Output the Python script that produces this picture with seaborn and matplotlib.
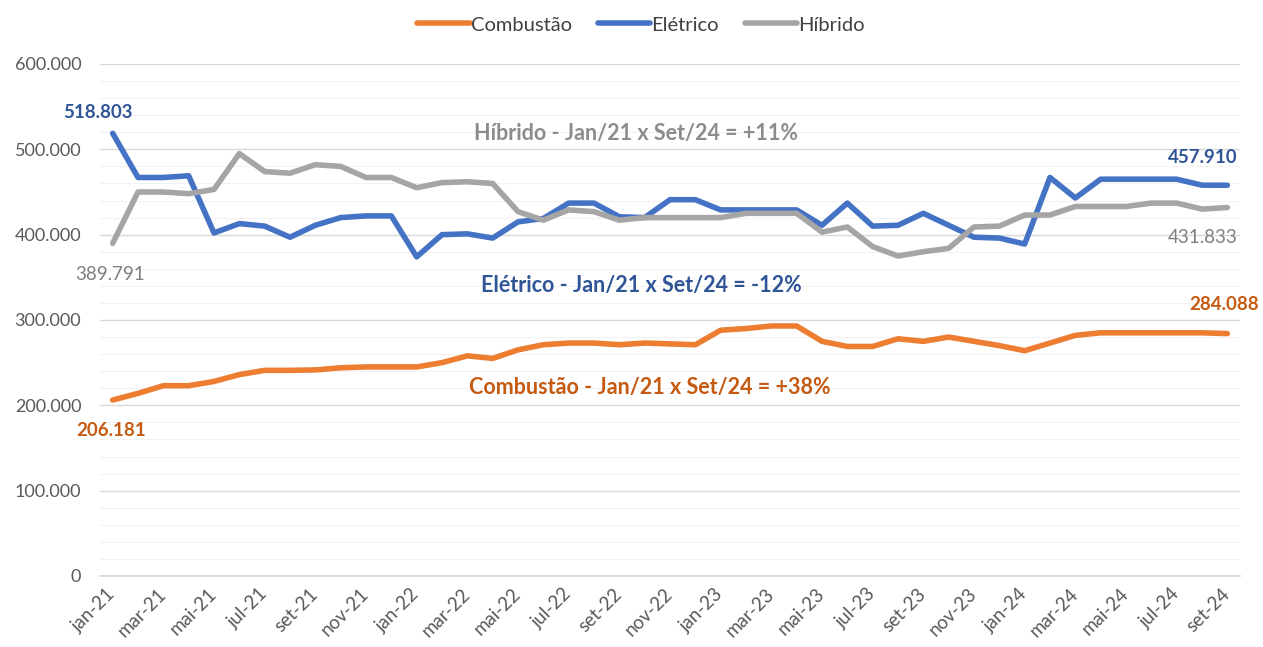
import numpy as np
import pandas as pd
import matplotlib
matplotlib.use("Agg")
import matplotlib.pyplot as plt
from matplotlib.ticker import FuncFormatter, MultipleLocator, FixedLocator
import seaborn as sns

# Monthly values, jan-21 .. set-24
meses = ["jan", "fev", "mar", "abr", "mai", "jun", "jul", "ago", "set", "out", "nov", "dez"]
anos = ["21", "22", "23", "24"]

combustao = [206181, 214000, 223000, 223000, 228000, 236000, 241000, 241000, 241500,
             244000, 245000, 245000, 245000, 250000, 258000, 255000, 265000, 271000,
             273000, 273000, 271000, 273000, 272000, 271000, 288000, 290000, 293000,
             293000, 275000, 269000, 269000, 278000, 275000, 280000, 275000, 270000,
             264000, 273000, 282000, 285000, 285000, 285000, 285000, 285000, 284088]

eletrico = [518803, 467000, 467000, 469000, 402000, 413000, 410000, 397000, 411000,
            420000, 422000, 422000, 374000, 400000, 401000, 396000, 415000, 419000,
            437000, 437000, 421000, 420000, 441000, 441000, 429000, 429000, 429000,
            429000, 411000, 437000, 410000, 411000, 425000, 411000, 397000, 396000,
            389000, 467000, 443000, 465000, 465000, 465000, 465000, 458000, 457910]

hibrido = [389791, 450000, 450000, 448000, 453000, 495000, 474000, 472000, 482000,
           480000, 467000, 467000, 455000, 461000, 462000, 460000, 427000, 417000,
           429000, 427000, 417000, 420000, 420000, 420000, 420000, 425000, 425000,
           425000, 403000, 409000, 386000, 375000, 380000, 384000, 409000, 410000,
           423000, 423000, 433000, 433000, 433000, 437000, 437000, 430000, 431833]

rotulos = [f"{m}-{a}" for a in anos for m in meses][:len(combustao)]

series = {"Combustão": combustao, "Elétrico": eletrico, "Híbrido": hibrido}
cores = {"Combustão": "#ED7D31", "Elétrico": "#4472C4", "Híbrido": "#A5A5A5"}
cores_texto = {"Combustão": "#C55A11", "Elétrico": "#2F5597", "Híbrido": "#8C8C8C"}

df = pd.concat(
    [pd.DataFrame({"idx": np.arange(len(v)), "valor": v, "tipo": k}) for k, v in series.items()],
    ignore_index=True,
)

sns.set_theme(style="white")
plt.rcParams["font.family"] = ["Lato", "DejaVu Sans"]

fig = plt.figure(figsize=(12.63, 6.47), dpi=100)
ax = fig.add_axes([100 / 1263, 71 / 647, 1140 / 1263, 512 / 647])

sns.lineplot(data=df, x="idx", y="valor", hue="tipo", palette=cores, linewidth=4,
             ax=ax, legend=True, solid_capstyle="round", solid_joinstyle="round")

n = len(combustao)
ax.set_xlim(-0.5, n - 0.5)
ax.set_ylim(0, 600000)

# Gridlines
ax.yaxis.set_major_locator(MultipleLocator(100000))
ax.yaxis.set_minor_locator(MultipleLocator(20000))
ax.grid(axis="y", which="major", color="#D9D9D9", linewidth=1)
ax.grid(axis="y", which="minor", color="#F2F2F2", linewidth=0.8)
ax.set_axisbelow(True)
ax.tick_params(axis="y", which="both", length=0, labelsize=13, labelcolor="#595959", pad=13.5)
ax.yaxis.set_major_formatter(FuncFormatter(lambda v, p: f"{int(v):,}".replace(",", ".")))

# Category ticks
ax.xaxis.set_major_locator(FixedLocator(list(range(0, n, 2))))
ax.set_xticklabels(rotulos[::2], rotation=45, ha="right", va="center",
                   rotation_mode="anchor", fontsize=13.5, color="#595959")
ax.xaxis.set_minor_locator(FixedLocator([i - 0.5 for i in range(0, n, 2)]))
ax.tick_params(axis="x", which="major", length=0, pad=11)
ax.tick_params(axis="x", which="minor", length=5, color="#D0D0D0", width=1)

for s in ["top", "right", "left"]:
    ax.spines[s].set_visible(False)
ax.spines["bottom"].set_color("#D9D9D9")
ax.set_xlabel("")
ax.set_ylabel("")

# Legend
h, l = ax.get_legend_handles_labels()
ax.legend_.remove()
fig.legend(h, l, loc="center", bbox_to_anchor=(641 / 1263, 1 - 25 / 647), ncol=3,
           frameon=False, fontsize=14.5, handlelength=2.6, handletextpad=0.05,
           columnspacing=1.3, labelcolor="#404040")


def fmt(v):
    return f"{v:,}".replace(",", ".")


# Endpoint labels (offsets in pixels -> points)
last = n - 1
rotulos_valor = [
    (0, eletrico[0], (-15, 21), cores_texto["Elétrico"], "bold"),
    (0, hibrido[0], (-3, -31), "#7F7F7F", "normal"),
    (0, combustao[0], (-2, -30), cores_texto["Combustão"], "bold"),
    (last, eletrico[last], (-25, 28), cores_texto["Elétrico"], "bold"),
    (last, hibrido[last], (-25, -30), "#7F7F7F", "normal"),
    (last, combustao[last], (-3, 29), cores_texto["Combustão"], "bold"),
]
for xi, v, (dx, dy), cor, peso in rotulos_valor:
    ax.annotate(fmt(v), (xi, v), xytext=(dx * 0.72, dy * 0.72), textcoords="offset points",
                ha="center", va="center", fontsize=13.5, fontweight=peso, color=cor,
                annotation_clip=False)


# Variation labels
def variacao(v):
    return round((v[-1] / v[0] - 1) * 100)


frases = [
    ("Híbrido", hibrido, 20.67, 519000, "#8C8C8C"),
    ("Elétrico", eletrico, 20.87, 341000, cores_texto["Elétrico"]),
    ("Combustão", combustao, 21.2, 221000, cores_texto["Combustão"]),
]
for nome, vals, xpos, ypos, cor in frases:
    p = variacao(vals)
    sinal = "+" if p > 0 else "-"
    ax.text(xpos, ypos, f"{nome} - Jan/21 x Set/24 = {sinal}{abs(p)}%", ha="center",
            va="center", fontsize=15.5, fontweight="bold", color=cor)

fig.savefig("out.png", dpi=100, facecolor="white")
